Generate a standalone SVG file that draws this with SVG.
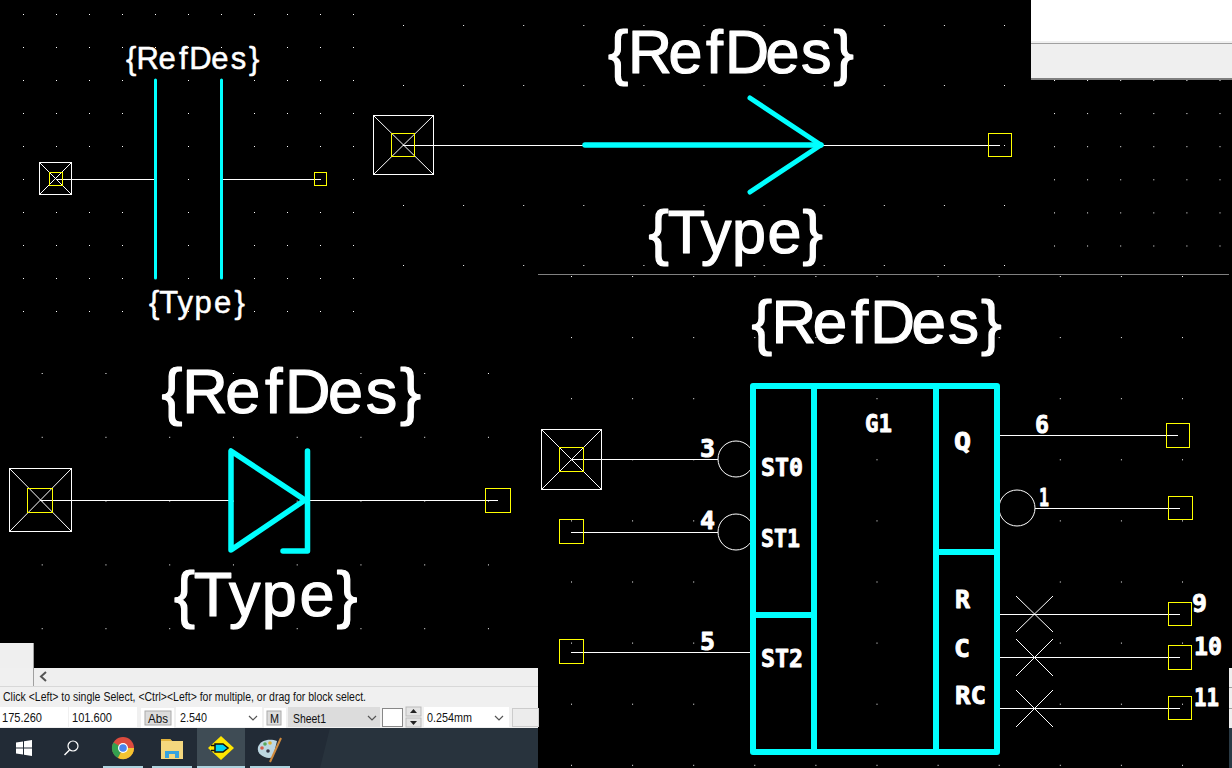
<svg xmlns="http://www.w3.org/2000/svg" width="1232" height="768" viewBox="0 0 1232 768">
<defs>
<style>
.wire{stroke:#fff;stroke-width:1;fill:none;shape-rendering:crispEdges}
.pad{stroke:#fff;stroke-width:1;fill:none;shape-rendering:crispEdges}
.padx{stroke:#fff;stroke-width:1;fill:none}
.ypad{stroke:#ff0;stroke-width:1;fill:none;shape-rendering:crispEdges}
.sym{stroke:#0ff;fill:none;stroke-linecap:round;stroke-linejoin:round}
.big{font-family:"Liberation Sans",sans-serif;fill:#fff;stroke:#fff;stroke-linejoin:round}
.lab{font-family:"DejaVu Sans Mono",monospace;font-weight:700;fill:#fff;stroke:#fff;stroke-width:.9;stroke-linejoin:round;font-size:25px}
.ui{font-family:"Liberation Sans",sans-serif;font-size:13px;fill:#111}
.chev{stroke:#555;stroke-width:1.2;fill:none}
</style>
<pattern id="gA" x="23" y="14" width="33" height="33" patternUnits="userSpaceOnUse"><rect width="1" height="1" fill="#fff"/></pattern>
<pattern id="gB" x="403" y="25" width="60.1" height="60" patternUnits="userSpaceOnUse"><rect width="1" height="1" fill="#fff"/></pattern>
<pattern id="gC" x="41.7" y="373" width="63.75" height="63.8" patternUnits="userSpaceOnUse"><rect width="1" height="1" fill="#fff"/></pattern>
<pattern id="gD" x="1054" y="80" width="33.1" height="33.1" patternUnits="userSpaceOnUse"><rect width="1" height="1" fill="#fff"/></pattern>
<pattern id="gE" x="571" y="276" width="61.1" height="61.1" patternUnits="userSpaceOnUse"><rect width="1" height="1" fill="#fff"/></pattern>
</defs>
<rect width="1232" height="768" fill="#000"/>
<g id="grid">
<rect x="0" y="0" width="360" height="335" fill="url(#gA)"/>
<rect x="400" y="0" width="630" height="270" fill="url(#gB)"/>
<rect x="1040" y="80" width="192" height="190" fill="url(#gD)"/>
<rect x="0" y="350" width="500" height="290" fill="url(#gC)"/>
<rect x="540" y="275" width="692" height="493" fill="url(#gE)"/>
<rect x="538" y="274" width="691" height="1" fill="#808080"/>
</g>
<g id="connectors">
<path class="wire" d="M56 179.500H155M222 179.500H321"/>
<path class="wire" d="M403 145.500H583M823 145.500H1000"/>
<path class="wire" d="M40 500.500H231M307 500.500H498"/>
<path class="wire" d="M571 459.500H718M571 532.500H718M571 652.500H751"/>
<path class="wire" d="M995 435.500H1178M1035 508.500H1180M997 614.500H1180M997 657.500H1180M997 708.500H1180"/>
</g>
<g id="capacitor">
<path class="sym" stroke-width="3" stroke-linecap="butt" d="M155.500 80V278M221.500 80V278"/>
<rect class="pad" x="39.500" y="162.500" width="32" height="32"/>
<path class="padx" d="M39.500 162.500L71.500 194.500M71.500 162.500L39.500 194.500"/>
<rect class="ypad" x="49.500" y="172.500" width="13" height="13"/>
<rect class="ypad" x="314.500" y="172.500" width="12" height="13"/>
<text class="big" x="126 136.400 158.500 178.900 189.200 211.300 230.700 249" y="69" font-size="31" stroke-width=".5">{RefDes}</text>
<text class="big" x="149 159.300 177.600 194.600 214.100 234.500" y="313" font-size="31" stroke-width=".5">{Type}</text>
</g>
<g id="arrow-symbol">
<path class="sym" stroke-width="5.500" d="M585 145H821"/>
<path class="sym" stroke-width="5" d="M750 98L821 145L750 192"/>
<rect class="pad" x="373.500" y="115.500" width="60" height="59"/>
<path class="padx" d="M373.500 115.500L433.500 174.500M433.500 115.500L373.500 174.500"/>
<rect class="ypad" x="391.500" y="133.500" width="23" height="23"/>
<rect class="ypad" x="988.500" y="133.500" width="23" height="23"/>
<text class="big" x="608 628 668.500 706 725 765.500 801 833.500" y="72.500" font-size="61" stroke-width="1.200">{RefDes}</text>
<text class="big" x="648.500 667.700 701 732 767.500 802.500" y="252.500" font-size="61" stroke-width="1.200">{Type}</text>
</g>
<g id="diode">
<path class="sym" stroke-width="5.500" d="M231 451V550L305 500Z"/>
<path class="sym" stroke-width="5.500" d="M307.500 451V551H283"/>
<rect class="pad" x="9.500" y="468.500" width="62" height="63"/>
<path class="padx" d="M9.500 468.500L71.500 531.500M71.500 468.500L9.500 531.500"/>
<rect class="ypad" x="27.500" y="488.500" width="25" height="24"/>
<rect class="ypad" x="485.500" y="488.500" width="25" height="24"/>
<text class="big" x="161.500 182.200 225.200 265 285 328 365.800 400" y="412.500" font-size="63" stroke-width="1.200">{RefDes}</text>
<text class="big" x="174 193.800 229 261.800 299.400 336.500" y="615.500" font-size="63" stroke-width="1.200">{Type}</text>
</g>
<g id="ic-block">
<circle class="padx" cx="736" cy="459" r="18"/>
<circle class="padx" cx="736" cy="532" r="18"/>
<circle class="padx" cx="1017" cy="508" r="18"/>
<path class="padx" d="M1016 596L1053 632M1053 596L1016 632M1016 639L1053 676M1053 639L1016 676M1016 690L1053 727M1053 690L1016 727"/>
<path class="sym" stroke-width="6" d="M753 386H997V752H753ZM814 386V752M936 386V752M753 615H814M936 552H997"/>
<rect class="pad" x="541.500" y="429.500" width="60" height="60"/>
<path class="padx" d="M541.500 429.500L601.500 489.500M601.500 429.500L541.500 489.500"/>
<rect class="ypad" x="559.500" y="447.500" width="24" height="24"/>
<rect class="ypad" x="559.500" y="519.500" width="24" height="24"/>
<rect class="ypad" x="559.500" y="639.500" width="24" height="24"/>
<rect class="ypad" x="1166.500" y="423.500" width="23" height="24"/>
<rect class="ypad" x="1168.500" y="496.500" width="24" height="23"/>
<rect class="ypad" x="1168.500" y="602.500" width="23" height="23"/>
<rect class="ypad" x="1168.500" y="645.500" width="23" height="24"/>
<rect class="ypad" x="1168.500" y="696.500" width="23" height="23"/>
<text class="big" x="751.500 771.400 812.800 851.100 870.300 911.600 948 981" y="342.500" font-size="62" stroke-width="1.200">{RefDes}</text>
<text class="lab" x="761" y="476" textLength="42" lengthAdjust="spacingAndGlyphs">ST0</text>
<text class="lab" x="761" y="547" textLength="39" lengthAdjust="spacingAndGlyphs">ST1</text>
<text class="lab" x="761" y="667" textLength="42" lengthAdjust="spacingAndGlyphs">ST2</text>
<text class="lab" x="865" y="432" textLength="27" lengthAdjust="spacingAndGlyphs">G1</text>
<text class="lab" x="954" y="450" textLength="17" lengthAdjust="spacingAndGlyphs">Q</text>
<text class="lab" x="955" y="608" textLength="15" lengthAdjust="spacingAndGlyphs">R</text>
<text class="lab" x="954" y="657" textLength="16" lengthAdjust="spacingAndGlyphs">C</text>
<text class="lab" x="955" y="704" textLength="31" lengthAdjust="spacingAndGlyphs">RC</text>
<text class="lab" x="700" y="457" textLength="15" lengthAdjust="spacingAndGlyphs">3</text>
<text class="lab" x="700" y="529" textLength="15" lengthAdjust="spacingAndGlyphs">4</text>
<text class="lab" x="700" y="650" textLength="15" lengthAdjust="spacingAndGlyphs">5</text>
<text class="lab" x="1035" y="433" textLength="14" lengthAdjust="spacingAndGlyphs">6</text>
<text class="lab" x="1039" y="506" textLength="10" lengthAdjust="spacingAndGlyphs">1</text>
<text class="lab" x="1192" y="612" textLength="15" lengthAdjust="spacingAndGlyphs">9</text>
<text class="lab" x="1194" y="655" textLength="28" lengthAdjust="spacingAndGlyphs">10</text>
<text class="lab" x="1194" y="706" textLength="25" lengthAdjust="spacingAndGlyphs">11</text>
</g>
<g id="window-top-right">
<rect x="1031" y="0" width="201" height="41" fill="#fff"/>
<rect x="1031" y="41" width="201" height="2" fill="#f0f0f0"/>
<rect x="1031" y="43" width="201" height="1" fill="#a0a0a0"/>
<rect x="1031" y="44" width="201" height="34" fill="#efefef"/>
<rect x="1031" y="78" width="201" height="2" fill="#808080"/>
</g>
<g id="window-right-edge">
<rect x="1229" y="668" width="3" height="60" fill="#efefef"/>
<rect x="1229" y="687" width="3" height="1" fill="#a0a0a0"/>
<rect x="1229" y="708" width="3" height="1" fill="#a0a0a0"/>
<rect x="1229" y="728" width="3" height="40" fill="#2a3a45"/>
</g>
<g id="status-area">
<rect x="0" y="643" width="34" height="25" fill="#efefef"/>
<rect x="0" y="668" width="538" height="60" fill="#f0f0f0"/>
<rect x="33" y="643" width="1" height="43" fill="#a0a0a0"/>
<rect x="34" y="668" width="504" height="18" fill="#efefef"/>
<path d="M46 672L41 676.500L46 681" fill="none" stroke="#555" stroke-width="2"/>
<rect x="0" y="686" width="538" height="1" fill="#d8d8d8"/>
<text class="ui" x="3" y="701" textLength="363" lengthAdjust="spacingAndGlyphs" style="font-size:12px">Click &lt;Left&gt; to single Select, &lt;Ctrl&gt;&lt;Left&gt; for multiple, or drag for block select.</text>
<rect x="0" y="707" width="68" height="20" fill="#fff"/>
<rect x="69" y="707" width="68" height="20" fill="#fff"/>
<text class="ui" x="2" y="722" textLength="40" lengthAdjust="spacingAndGlyphs">175.260</text>
<text class="ui" x="72" y="722" textLength="40" lengthAdjust="spacingAndGlyphs">101.600</text>
<rect x="141" y="708" width="33" height="20" fill="#fff"/>
<rect x="145" y="711" width="26" height="14" fill="#dcdcdc" stroke="#aaa"/>
<text class="ui" x="148" y="723" textLength="20" lengthAdjust="spacingAndGlyphs">Abs</text>
<rect x="176" y="707" width="86" height="20" fill="#fff"/>
<text class="ui" x="180" y="722" textLength="27" lengthAdjust="spacingAndGlyphs">2.540</text>
<path class="chev" d="M249 716L253 720L257 716"/>
<rect x="264" y="708" width="22" height="20" fill="#fff"/>
<rect x="267" y="711" width="14" height="14" fill="#dcdcdc" stroke="#aaa"/>
<text class="ui" x="270" y="723" textLength="9" lengthAdjust="spacingAndGlyphs">M</text>
<rect x="288" y="707" width="92" height="20" fill="#dcdcdc"/>
<text class="ui" x="293" y="723" textLength="33" lengthAdjust="spacingAndGlyphs">Sheet1</text>
<path class="chev" d="M368 716L372 720L376 716"/>
<rect x="382.500" y="708.500" width="20" height="18" fill="#fff" stroke="#888"/>
<rect x="406" y="707" width="15" height="9" fill="#e4e4e4" stroke="#bbb"/>
<rect x="406" y="718" width="15" height="9" fill="#e4e4e4" stroke="#bbb"/>
<path d="M413.500 709L410 713H417ZM413.500 725L410 721H417Z" fill="#222"/>
<rect x="424" y="707" width="85" height="20" fill="#fff"/>
<text class="ui" x="427" y="722" textLength="45" lengthAdjust="spacingAndGlyphs">0.254mm</text>
<path class="chev" d="M495 716L499 720L503 716"/>
<rect x="512.500" y="708.500" width="26" height="18" fill="#ececec" stroke="#ccc"/>
</g>
<g id="taskbar">
<rect x="0" y="728" width="538" height="40" fill="#222b36"/>
<path d="M330 728H538V768H320Z" fill="#28333d"/>
<rect x="197" y="728" width="48" height="40" fill="#3f4c55"/>
<path d="M103 766h40v2h-40zM152 766h40v2h-40zM197 766h48v2h-48zM250 766h40v2h-40z" fill="#add3de"/>
<path d="M16 742.500L23 741.500V747.500H16ZM24 741.300L32 740V747.500H24ZM16 748.500H23V754.500L16 753.500ZM24 748.500H32V756L24 754.700Z" fill="#fff"/>
<circle cx="73" cy="746" r="5" fill="none" stroke="#fff" stroke-width="1.200"/>
<path d="M69.500 750L64.500 755" stroke="#fff" stroke-width="1.500"/>
<circle cx="123" cy="748" r="11" fill="#dd4b3e"/>
<path d="M123 748L113.500 742.500A11 11 0 0 0 118 758Z" fill="#35a04f"/>
<path d="M123 748L118 758A11 11 0 0 0 134 748Z" fill="#f4c430"/>
<circle cx="123" cy="748" r="5" fill="#fff"/>
<circle cx="123" cy="748" r="3.800" fill="#4a85ed"/>
<path d="M161 739H170L172 741H183V759H161Z" fill="#f4d77e"/>
<path d="M161 739H170L172 741H161Z" fill="#e2b33c"/>
<path d="M165 758V751H179V758H175V754H169V758Z" fill="#36a3e0"/>
<path d="M221 736L234 748L221 760L208 748Z" fill="#ffe600"/>
<path d="M215 744H223L228 748L223 752H215Z" fill="#00d4f0" stroke="#111" stroke-width="1.500"/>
<path d="M211 745.500H215M211 750.500H215" stroke="#111" stroke-width="1.500"/>
<path d="M258 747C260 740 270 738 277 741L273 757C267 760 256 755 258 747Z" fill="#bcd7e2"/>
<circle cx="262" cy="748" r="1.800" fill="#d65a4a"/>
<circle cx="265" cy="744" r="1.800" fill="#58a85c"/>
<circle cx="270" cy="743" r="1.800" fill="#e0b030"/>
<circle cx="268" cy="751" r="1.800" fill="#334"/>
<path d="M270 762L281 738" stroke="#d08a3c" stroke-width="2"/>
</g>
</svg>
